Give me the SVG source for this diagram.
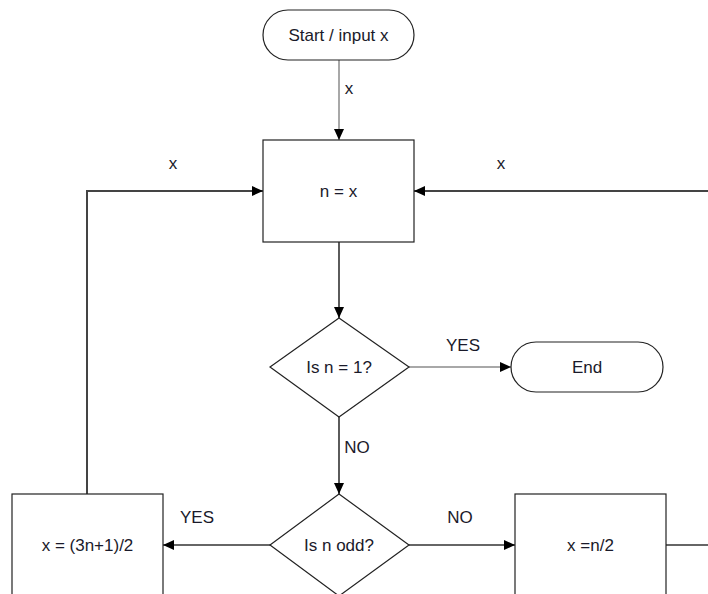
<svg xmlns="http://www.w3.org/2000/svg" width="708" height="594" viewBox="0 0 708 594">
<style>
.node{fill:#fff;stroke:#222;stroke-width:1.2}
.t{font-family:"Liberation Sans",Arial,sans-serif;font-size:17px;fill:#1a1a2a;text-anchor:middle;dominant-baseline:central}
.c{fill:none;stroke:#333;stroke-width:1.6}
.g{fill:none;stroke:#a8a8a8;stroke-width:2}
</style>
<defs>
<marker id="ah" markerUnits="userSpaceOnUse" markerWidth="12" markerHeight="12" refX="11" refY="6" orient="auto">
<path d="M0,1 L11,6 L0,11 Z" fill="#000"/>
</marker>
</defs>
<g id="connectors">
<path class="g" d="M339,60 L339,140" marker-end="url(#ah)"/>
<path class="c" d="M339,242 L339,318" marker-end="url(#ah)"/>
<path class="g" d="M409,367 L511,367" marker-end="url(#ah)"/>
<path class="c" d="M339,417 L339,494" marker-end="url(#ah)"/>
<path class="c" d="M270,545 L163,545" marker-end="url(#ah)"/>
<path class="c" d="M409,545 L515,545" marker-end="url(#ah)"/>
<path class="c" style="stroke-width:2;stroke:#444" d="M87,494 L87,191 L263,191" marker-end="url(#ah)"/>
<path class="c" style="stroke-width:2;stroke:#444" d="M708,191 L414,191" marker-end="url(#ah)"/>
<path class="c" d="M666,545 L708,545"/>
<text class="t" x="349" y="88">x</text>
<text class="t" x="173" y="163">x</text>
<text class="t" x="501" y="163">x</text>
<text class="t" x="463" y="345">YES</text>
<text class="t" x="357" y="447">NO</text>
<text class="t" x="197" y="517">YES</text>
<text class="t" x="460" y="517">NO</text>
</g>
<g id="start">
<rect class="node" x="263" y="10" width="151" height="50" rx="25" ry="25"/>
<text class="t" x="338.5" y="35">Start / input x</text>
</g>
<g id="assign">
<rect class="node" x="263" y="140" width="151" height="102"/>
<text class="t" x="338.5" y="191">n = x</text>
</g>
<g id="isone">
<polygon class="node" points="339,318 409,367 339,417 270,367"/>
<text class="t" x="339" y="367">Is n = 1?</text>
</g>
<g id="end">
<rect class="node" x="511" y="342" width="152" height="50" rx="25" ry="25"/>
<text class="t" x="587" y="367">End</text>
</g>
<g id="isodd">
<polygon class="node" points="339,494 409,545 339,596 270,545"/>
<text class="t" x="339" y="545">Is n odd?</text>
</g>
<g id="odd">
<rect class="node" x="12" y="494" width="151" height="104"/>
<text class="t" x="87.5" y="545">x = (3n+1)/2</text>
</g>
<g id="even">
<rect class="node" x="515" y="494" width="151" height="104"/>
<text class="t" x="590.5" y="545">x =n/2</text>
</g>
</svg>
